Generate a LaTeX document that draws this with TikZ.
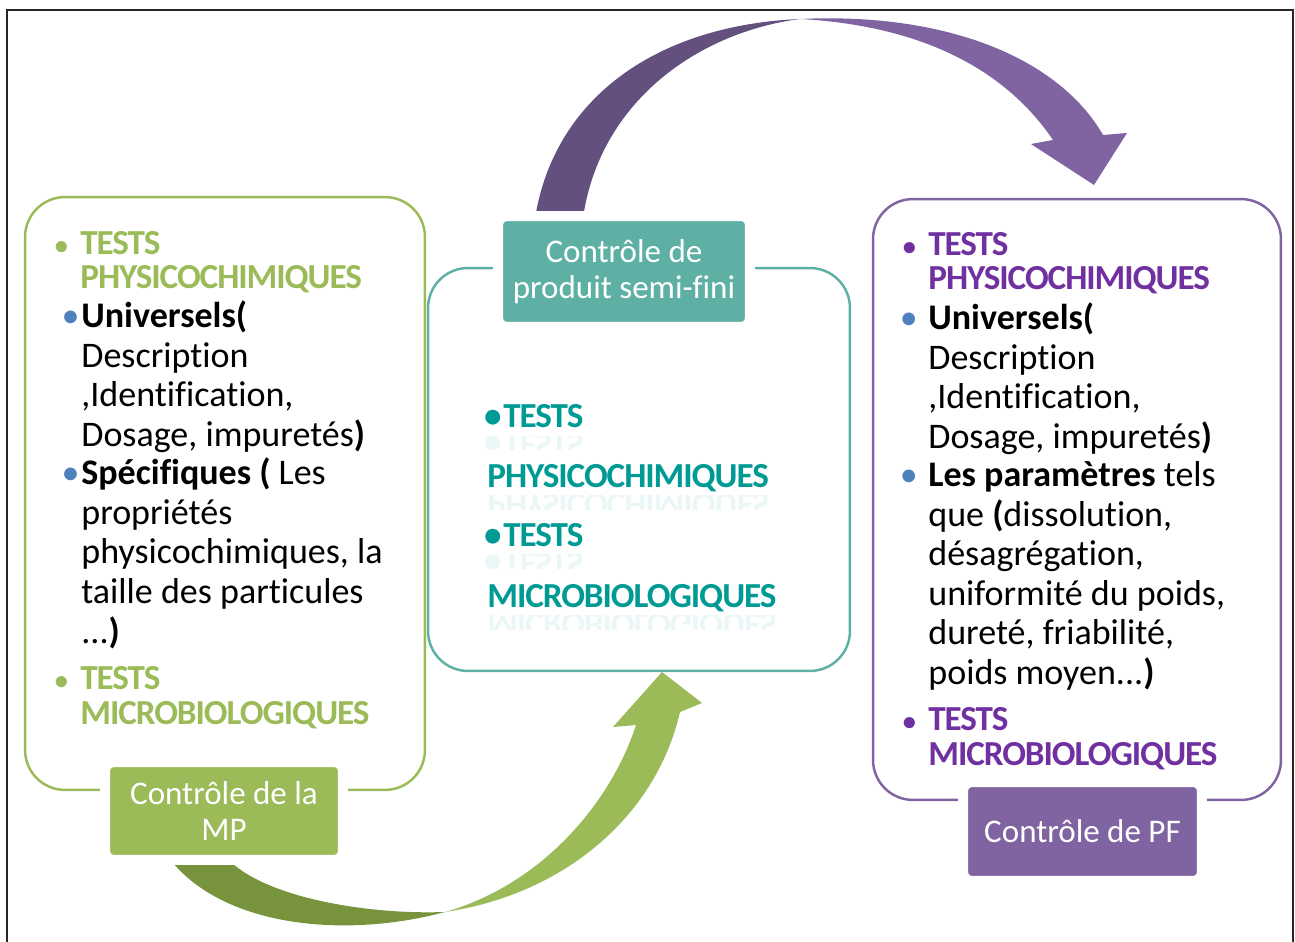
\documentclass[tikz,border=0pt]{standalone}
\usepackage{fontspec}
\setmainfont[Ligatures=NoCommon]{Carlito}
\newfontfamily\headfont[LetterSpace=-3,Ligatures=NoCommon]{Carlito}
\usetikzlibrary{
	calc,
	positioning,
}
\definecolor{mpgreen}{HTML}{9BBB59}
\definecolor{mpdark}{HTML}{77933C}
\definecolor{sfteal}{HTML}{5EB0A5}
\definecolor{sftext}{HTML}{009A94}
\definecolor{pfpurple}{HTML}{8064A2}
\definecolor{pfdark}{HTML}{64507F}
\definecolor{pftext}{HTML}{7030A0}
\definecolor{bulblue}{HTML}{4F81BD}
\tikzset{frame/.style={draw=black!85,line width=1.6pt}}
\tikzset{box/.style={draw,rounded corners=0.8cm,line width=1.4pt,inner sep=0pt}}
\tikzset{tag/.style={draw=white,line width=0.2cm,rounded corners=0.18cm,text=white,align=center,inner sep=0pt,font=\fontsize{18.8}{20.5}\selectfont}}
\tikzset{txt/.style={anchor=base west,align=left,inner sep=0pt,font=\fontsize{20.5}{22.5}\selectfont}}
\tikzset{head/.style={anchor=base west,align=left,inner sep=0pt,font=\headfont\bfseries\fontsize{20}{19.9}\selectfont}}
\tikzset{mirror/.style={head,yscale=-1,transform shape,opacity=0.08}}
% bullet: colour, gap
\newcommand{\bul}[2]{\llap{\textcolor{#1}{•}\hspace{#2}}}
\newcommand{\hbul}[1]{\llap{\textcolor{#1}{\fontsize{15}{15}\selectfont •}\hspace{7pt}}}

\begin{document}
\begin{tikzpicture}[x=0.02cm,y=-0.02cm]
\useasboundingbox (0,0) rectangle (1295,942);

\draw[frame] (7,942) -- (7,10) -- (1293,10) -- (1293,942);

% purple arc: semi-fini -> PF
\coordinate (sfOut) at (535,218);
\coordinate (sfIn) at (583,218);
\coordinate (topArc) at (800,19);
\coordinate (pfTip) at (1094,185);
\fill[pfdark] (sfOut) .. controls (555,95) and (660,25) .. (topArc)
  .. controls (700,32) and (600,100) .. (sfIn) -- cycle;
\fill[pfpurple] (topArc) .. controls (950,12) and (1060,60) .. (1103,135)
  -- (1127,133) -- (pfTip) -- (1031,144) -- (1053,140)
  .. controls (1000,62) and (910,25) .. (topArc) -- cycle;

% green arc: MP -> semi-fini
\coordinate (mpOut) at (169,858);
\coordinate (mpIn) at (227,858);
\coordinate (lowArc) at (445,912);
\coordinate (sfTip) at (662,672);
\fill[mpdark] (mpOut) .. controls (220,925) and (340,940) .. (lowArc)
  .. controls (360,915) and (260,895) .. (mpIn) -- cycle;
\fill[mpgreen] (lowArc) .. controls (560,895) and (655,820) .. (680,712)
  -- (702,703) -- (sfTip) -- (613,727) -- (636,725)
  .. controls (610,805) and (540,885) .. (lowArc) -- cycle;

% boxes
\node[box,draw=mpgreen,minimum width=8cm,minimum height=11.86cm] (mpBox) at (225,493.5) {};
\node[box,draw=sfteal,minimum width=8.44cm,minimum height=8.06cm] (sfBox) at (639,469.5) {};
\node[box,draw=pfpurple,minimum width=8.16cm,minimum height=12.02cm] (pfBox) at (1077,499.5) {};

% tags
\node[tag,fill=mpgreen,minimum width=4.76cm,minimum height=1.96cm] (mpTag) at (224,811) {Contrôle de la\\MP};
\node[tag,fill=sfteal,minimum width=5.04cm,minimum height=2.22cm] (sfTag) at (624,271.5) {Contrôle de\\produit semi-fini};
\node[tag,fill=pfpurple,minimum width=4.78cm,minimum height=1.98cm] (pfTag) at (1082.5,831.5) {Contrôle de PF};

% MP text (nodes sit on the baseline of their last line)
\node[head,text=mpgreen] (mpPhys) at (80,289) {\hbul{mpgreen}TESTS\\PHYSICOCHIMIQUES};
\node[txt] (mpUni) at (81,446.5) {\bul{bulblue}{1pt}\textbf{Universels(}\\Description\\,Identification,\\Dosage, impuretés\textbf{)}};
\node[txt] (mpSpec) at (81,643) {\bul{bulblue}{1pt}\textbf{Spécifiques (} Les\\propriétés\\physicochimiques, la\\taille des particules\\...\textbf{)}};
\node[head,text=mpgreen] (mpMicro) at (80,724) {\hbul{mpgreen}TESTS\\MICROBIOLOGIQUES};

% semi-fini text
\node[head,text=sftext] (sfPhys) at (503,428) {\bul{sftext}{1pt}TESTS};
\node[head,text=sftext] (sfPhys2) at (487,487) {PHYSICOCHIMIQUES};
\node[head,text=sftext] (sfMicro) at (503,546) {\bul{sftext}{1pt}TESTS};
\node[head,text=sftext] (sfMicro2) at (487,607) {MICROBIOLOGIQUES};

% faded reflections
\begin{scope}
\clip (480,436) rectangle (790,450) (480,495) rectangle (790,509)
      (480,554) rectangle (790,568) (480,615) rectangle (790,629);
\node[mirror,text=sftext] (sfPhysR) at (503,434) {\bul{sftext}{1pt}TESTS};
\node[mirror,text=sftext] (sfPhys2R) at (487,493) {PHYSICOCHIMIQUES};
\node[mirror,text=sftext] (sfMicroR) at (503,552) {\bul{sftext}{1pt}TESTS};
\node[mirror,text=sftext] (sfMicro2R) at (487,613) {MICROBIOLOGIQUES};
\end{scope}

% PF text
\node[head,text=pftext] (pfPhys) at (928,290) {\hbul{pftext}TESTS\\PHYSICOCHIMIQUES};
\node[txt] (pfUni) at (928,448.5) {\bul{bulblue}{6pt}\textbf{Universels(}\\Description\\,Identification,\\Dosage, impuretés\textbf{)}};
\node[txt] (pfParam) at (928,684.5) {\bul{bulblue}{6pt}\textbf{Les paramètres} tels\\que \textbf{(}dissolution,\\désagrégation,\\uniformité du poids,\\dureté, friabilité,\\poids moyen...\textbf{)}};
\node[head,text=pftext] (pfMicro) at (928,765) {\hbul{pftext}TESTS\\MICROBIOLOGIQUES};
\end{tikzpicture}
\end{document}
